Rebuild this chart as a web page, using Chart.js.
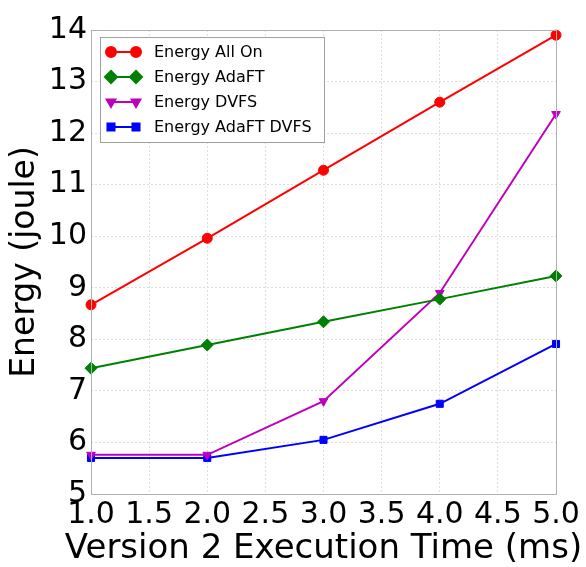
<!DOCTYPE html>
<html>
<head>
<meta charset="utf-8">
<script src="https://cdn.jsdelivr.net/npm/chart.js@4/dist/chart.umd.min.js"></script>
<style>
  html, body { margin: 0; padding: 0; background: #fff; }
  #wrap { width: 586px; height: 567px; }
</style>
</head>
<body>
<div id="wrap"><canvas id="c" width="586" height="567"></canvas></div>
<script>
// Execution time of version 2 (ms)
const execTimes = [1, 2, 3, 4, 5];

// Energy in joule for each configuration
const energyAllOn     = [8.67, 9.96, 11.28, 12.60, 13.90];
const energyAdaFT     = [7.44, 7.89, 8.34, 8.78, 9.23];
const energyDVFS      = [5.76, 5.76, 6.80, 8.90, 12.37];
const energyAdaFTDVFS = [5.70, 5.70, 6.05, 6.75, 7.91];

const seriesNames = ['Energy All On', 'Energy AdaFT', 'Energy DVFS', 'Energy AdaFT DVFS'];
const seriesColors = ['#ff0000', '#008000', '#bf00bf', '#0000ff'];
const seriesMarkers = ['circle', 'rectRot', 'triangle', 'rect'];
const seriesRotation = [0, 0, 180, 0];
const seriesRadius = [5, 6, 5, 5];
const seriesValues = [energyAllOn, energyAdaFT, energyDVFS, energyAdaFTDVFS];

const xTitle = 'Version 2 Execution Time (ms)';
const yTitle = 'Energy (joule)';

const FONT = "'DejaVu Sans', sans-serif";

function toPoints(vals) {
  return vals.map((v, i) => ({ x: execTimes[i], y: v }));
}

const datasets = seriesValues.map((vals, i) => ({
  label: seriesNames[i],
  data: toPoints(vals),
  borderColor: seriesColors[i],
  backgroundColor: seriesColors[i],
  pointBackgroundColor: seriesColors[i],
  pointBorderColor: seriesColors[i],
  pointStyle: seriesMarkers[i],
  rotation: seriesRotation[i],
  pointRadius: seriesRadius[i],
  pointBorderWidth: 1,
  borderWidth: 2,
  tension: 0,
  clip: false
}));

// Box around the plot, the x-axis title (drawn at full width) and an in-axes legend
const framePlugin = {
  id: 'frameAndLegend',
  afterDraw(chart) {
    const { ctx, chartArea: a } = chart;
    ctx.save();
    ctx.strokeStyle = '#b0b0b0';
    ctx.lineWidth = 1;
    ctx.strokeRect(a.left + 0.5, a.top + 0.5, a.right - a.left, a.bottom - a.top);

    // x-axis title
    ctx.fillStyle = '#000000';
    ctx.font = '34px ' + FONT;
    ctx.textAlign = 'center';
    ctx.textBaseline = 'alphabetic';
    ctx.fillText(xTitle, (a.left + a.right) / 2, a.bottom + 64);

    // legend box
    const bx = a.left + 9, by = a.top + 7, bw = 224, bh = 105;
    ctx.fillStyle = '#ffffff';
    ctx.fillRect(bx, by, bw, bh);
    ctx.strokeStyle = '#a0a0a0';
    ctx.strokeRect(bx + 0.5, by + 0.5, bw, bh);

    ctx.font = '16px ' + FONT;
    ctx.textBaseline = 'middle';
    ctx.textAlign = 'left';
    for (let i = 0; i < seriesNames.length; i++) {
      const y = by + 15 + i * 25;
      const x1 = bx + 11, x2 = bx + 36;
      ctx.strokeStyle = seriesColors[i];
      ctx.lineWidth = 2;
      ctx.beginPath();
      ctx.moveTo(x1, y);
      ctx.lineTo(x2, y);
      ctx.stroke();
      const opts = {
        pointStyle: seriesMarkers[i],
        rotation: seriesRotation[i],
        radius: seriesRadius[i],
        borderWidth: 1
      };
      ctx.fillStyle = seriesColors[i];
      ctx.strokeStyle = seriesColors[i];
      Chart.helpers.drawPoint(ctx, opts, x1, y);
      Chart.helpers.drawPoint(ctx, opts, x2, y);
      ctx.fillStyle = '#000000';
      ctx.fillText(seriesNames[i], bx + 54, y + 1);
    }
    ctx.restore();
  }
};

new Chart(document.getElementById('c'), {
  type: 'line',
  data: { datasets },
  options: {
    responsive: false,
    animation: false,
    devicePixelRatio: 1,
    layout: { padding: { top: 30, right: 30, left: 0, bottom: 0 } },
    plugins: {
      legend: { display: false },
      tooltip: { enabled: false }
    },
    scales: {
      x: {
        type: 'linear',
        min: 1,
        max: 5,
        ticks: {
          stepSize: 0.5,
          autoSkip: false,
          maxRotation: 0,
          color: '#000',
          padding: 3,
          font: { family: FONT, size: 30 },
          callback: v => Number(v).toFixed(1)
        },
        grid: {
          color: '#dddddd',
          drawTicks: false,
          tickLength: 0
        },
        border: { display: false, dash: [2, 2] },
        title: { display: false },
        afterFit(scale) { scale.height = 73; }
      },
      y: {
        type: 'linear',
        min: 5,
        max: 14,
        ticks: {
          stepSize: 1,
          color: '#000',
          padding: 4,
          font: { family: FONT, size: 30 }
        },
        grid: {
          color: '#dddddd',
          drawTicks: false,
          tickLength: 0
        },
        border: { display: false, dash: [2, 2] },
        title: {
          display: true,
          text: yTitle,
          color: '#000',
          font: { family: FONT, size: 33 },
          padding: { top: 6, bottom: 0 }
        },
        afterFit(scale) { scale.width = 91; }
      }
    }
  },
  plugins: [framePlugin]
});
</script>
</body>
</html>
